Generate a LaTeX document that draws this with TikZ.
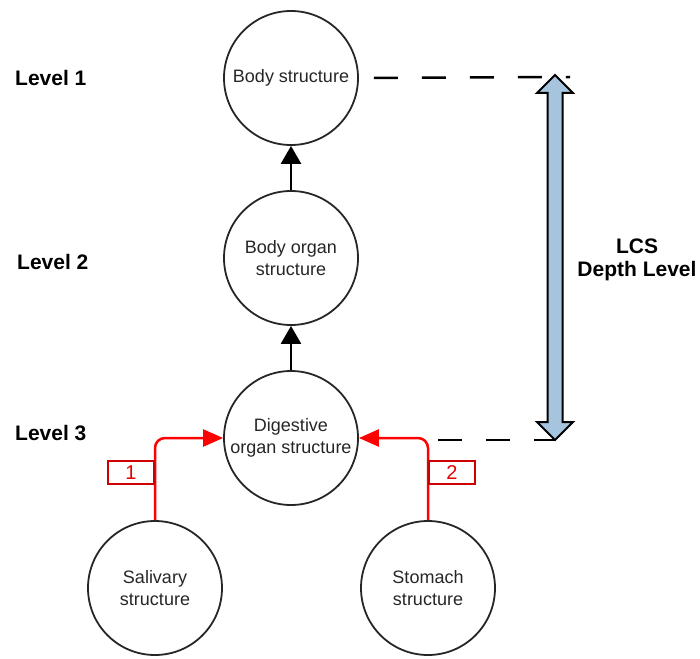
\documentclass[tikz,border=0pt]{standalone}
\usepackage{fontspec}
\setmainfont{Liberation Sans}
\usetikzlibrary{arrows.meta}
\definecolor{lcsblue}{RGB}{166,196,222}
\definecolor{pathred}{RGB}{255,0,0}
\definecolor{boxred}{RGB}{204,0,0}
\begin{document}
\begin{tikzpicture}[x=1pt,y=-1pt,
  concept/.style={circle, draw=black!85, line width=1.8pt, minimum size=134pt,
    inner sep=0pt, align=center, text=black!85,
    font=\fontsize{18}{22}\selectfont},
  levellabel/.style={anchor=west, inner sep=0pt, font=\fontsize{21}{25}\selectfont\bfseries},
  isa/.style={line width=2.5pt, -{Triangle[length=18pt,width=20pt]}},
  lcspath/.style={pathred, line width=2.5pt, rounded corners=10pt,
    -{Triangle[length=20pt,width=17pt]}},
  pathlabel/.style={draw=boxred, line width=2pt, text=pathred!90!black,
    minimum width=46pt, minimum height=23pt, inner sep=0pt,
    font=\fontsize{20}{20}\selectfont},
  guide/.style={line width=2.5pt, dash pattern=on 24pt off 24pt}
]
\useasboundingbox (0,0) rectangle (700,658);

% concept hierarchy
\node[concept] (body)  at (291,78)  {Body structure};
\node[concept] (organ) at (291,258) {Body organ\\structure};
\node[concept] (dig)   at (291,438) {Digestive\\organ structure};
\node[concept] (sal)   at (155,588) {Salivary\\structure};
\node[concept] (stom)  at (428,588) {Stomach\\structure};

\draw[isa] (organ) -- (body);
\draw[isa] (dig) -- (organ);

% paths from the leaves to their common subsumer
\draw[lcspath] (sal.north) |- (dig.west);
\draw[lcspath] (stom.north) |- (dig.east);
\node[pathlabel, anchor=east] (p1) at (155,472.5) {1};
\node[pathlabel, anchor=west] (p2) at (428,472.5) {2};

% level labels
\node[levellabel] (l1) at (15,78)  {Level 1};
\node[levellabel] (l2) at (17,262) {Level 2};
\node[levellabel] (l3) at (15,433) {Level 3};

% depth guides
\coordinate (g1) at (570,77);
\coordinate (g2a) at (438,440);
\coordinate (g2b) at (555,440);
\draw[guide, dash phase=33pt] (body.east) -- (g1);
\draw[guide] (g2a) -- (g2b);

% double block arrow for the depth
\coordinate (dtop) at (555,75);
\coordinate (dbot) at (555,440);
\filldraw[fill=lcsblue, draw=black, line width=2pt, line join=miter]
  (dtop) -- ++(18,18) -- ++(-10.5,0) -- (562.5,422) -- ++(10.5,0)
  -- (dbot) -- ++(-18,-18) -- ++(10.5,0) -- (547.5,93) -- ++(-10.5,0) -- cycle;

\node[align=center, font=\fontsize{21}{23}\selectfont\bfseries] (lcs) at (637,260)
  {LCS\\Depth Level};
\end{tikzpicture}
\end{document}
